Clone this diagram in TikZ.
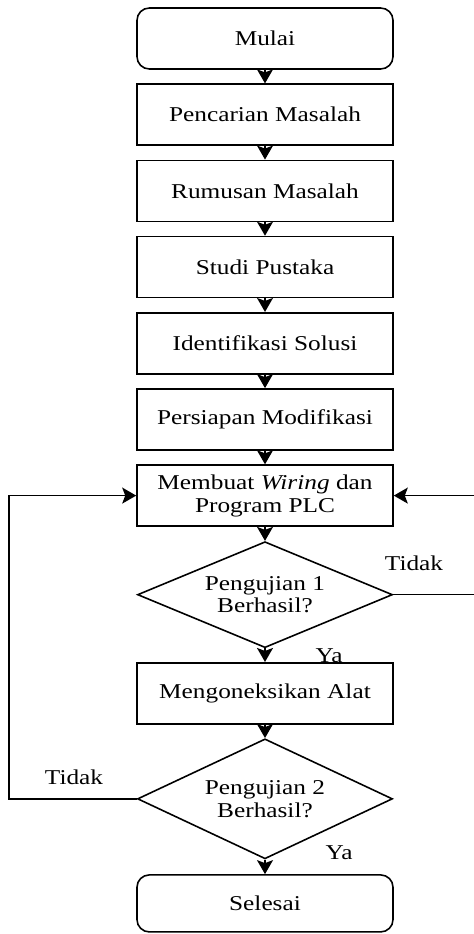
\documentclass[tikz,border=0pt]{standalone}
\usepackage{fontspec}
\setmainfont[FakeStretch=1.2]{Liberation Serif}
\usetikzlibrary{shapes.geometric, arrows.meta, positioning}
\tikzset{
	startstop/.style={rectangle, rounded corners=7pt, minimum width=5.12cm, minimum height=1.22cm, text centered, align=center, draw=black},
	process/.style  ={rectangle, minimum width=5.12cm, minimum height=1.22cm, text centered, align=center, draw=black},
	decision/.style ={diamond, aspect=2.4, minimum width=5.1cm, minimum height=2.12cm, text centered, align=center, draw=black, inner sep=0pt},
	flowarrow/.style={-{Stealth[length=2.8mm, width=3.2mm, inset=0.6mm]}, line width=0.9pt},
	lbl/.style      ={inner sep=1pt},
}
\begin{document}
\begin{tikzpicture}[line width=0.9pt, font=\fontsize{12}{13}\selectfont]
	\useasboundingbox (0,0) rectangle (9.46,-18.68);
	% main column
	\node[startstop] (mulai) at (5.3,-0.77) {Mulai};
	\node[process, below=0.272cm of mulai] (cari) {Pencarian Masalah};
	\node[process, below=0.272cm of cari] (rumus) {Rumusan Masalah};
	\node[process, below=0.272cm of rumus] (pustaka) {Studi Pustaka};
	\node[process, below=0.272cm of pustaka] (solusi) {Identifikasi Solusi};
	\node[process, below=0.272cm of solusi] (siap) {Persiapan Modifikasi};
	\node[process, below=0.272cm of siap] (wiring) {Membuat \textit{Wiring} dan\\ Program PLC};
	\node[decision, below=0.28cm of wiring] (uji1) {Pengujian 1\\ Berhasil?};
	\node[process, below=0.27cm of uji1] (koneksi) {Mengoneksikan Alat};
	\node[decision, minimum height=2.4cm, below=0.27cm of koneksi] (uji2) {Pengujian 2\\ Berhasil?};
	\node[startstop, minimum height=1.14cm, below=0.29cm of uji2] (selesai) {Selesai};
	% straight arrows
	\draw[flowarrow] (mulai) -- (cari);
	\draw[flowarrow] (cari) -- (rumus);
	\draw[flowarrow] (rumus) -- (pustaka);
	\draw[flowarrow] (pustaka) -- (solusi);
	\draw[flowarrow] (solusi) -- (siap);
	\draw[flowarrow] (siap) -- (wiring);
	\draw[flowarrow] (wiring) -- (uji1);
	\draw[flowarrow] (uji1) -- (koneksi);
	\draw[flowarrow] (koneksi) -- (uji2);
	\draw[flowarrow] (uji2) -- (selesai);
	% loops back
	\draw[flowarrow] (uji1.east) -- ++(1.63,0) |- (wiring.east);
	\draw[flowarrow] (uji2.west) -- ++(-2.56,0) |- (wiring.west);
	% labels
	\node[lbl] (tidak1) at (8.28,-11.26) {Tidak};
	\node[lbl] (ya1) at (6.58,-13.12) {Ya};
	\node[lbl] (tidak2) at (1.48,-15.54) {Tidak};
	\node[lbl] (ya2) at (6.78,-17.06) {Ya};
\end{tikzpicture}
\end{document}
